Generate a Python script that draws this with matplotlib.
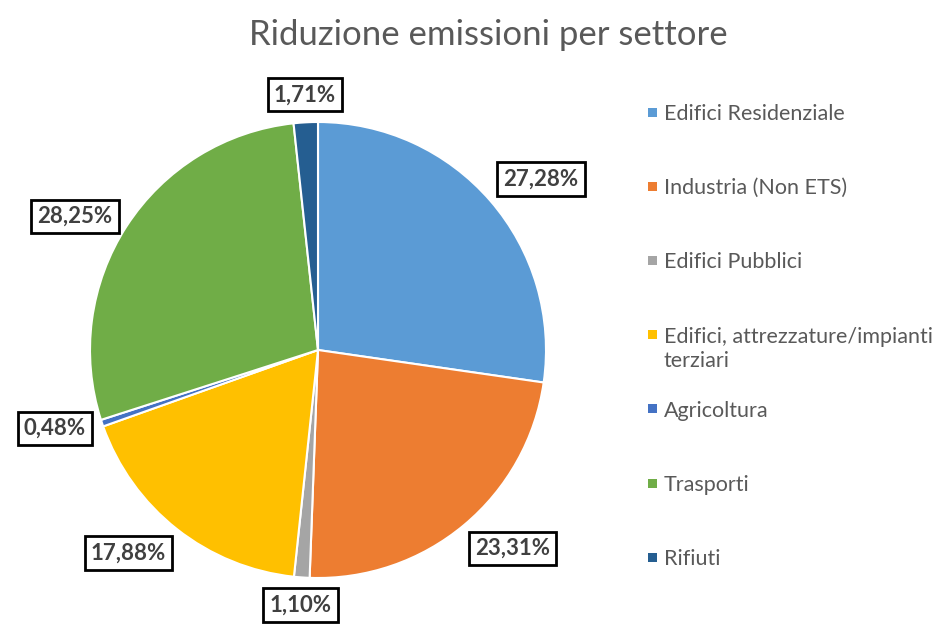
import numpy as np
import matplotlib
matplotlib.use("Agg")
import matplotlib.pyplot as plt
from matplotlib.patches import Rectangle

plt.rcParams['font.family'] = ['Lato', 'DejaVu Sans']

settori = ['Edifici Residenziale', 'Industria (Non ETS)', 'Edifici Pubblici',
           'Edifici, attrezzature/impianti\nterziari', 'Agricoltura',
           'Trasporti', 'Rifiuti']
quote = [27.28, 23.31, 1.10, 17.88, 0.48, 28.25, 1.71]
colori = ['#5B9BD5', '#ED7D31', '#A5A5A5', '#FFC000', '#4472C4', '#70AD47', '#255E91']

W, H = 945, 624
fig = plt.figure(figsize=(W / 100, H / 100), dpi=100)

# square axes so that the pie sits at (318, 350) px with radius 228 px
L = 1.35
R = 228
side = 2 * R * L
cx, cy = 318, H - 350
ax = fig.add_axes([(cx - side / 2) / W, (cy - side / 2) / H, side / W, side / H])

wedges, _ = ax.pie(quote, colors=colori, startangle=90, counterclock=False,
                   radius=1, wedgeprops=dict(edgecolor='white', linewidth=1.5))
ax.set_xlim(-L, L)
ax.set_ylim(-L, L)
ax.set_aspect('equal')
ax.axis('off')

# percentage boxes just outside each wedge, aligned away from the pie
r_lab = 1.075
for w, q in zip(wedges, quote):
    ang = np.deg2rad((w.theta1 + w.theta2) / 2)
    c, s = np.cos(ang), np.sin(ang)
    ha = 'left' if c > 0.3 else ('right' if c < -0.3 else 'center')
    va = 'bottom' if s > 0.6 else ('top' if s < -0.6 else 'center')
    ax.text(r_lab * c, r_lab * s, f'{q:.2f}%'.replace('.', ','),
            ha=ha, va=va, fontsize=16, fontweight='bold',
            color='#404040', clip_on=False,
            bbox=dict(boxstyle='square,pad=0.28', facecolor='white',
                      edgecolor='black', linewidth=2))

fig.text(488 / W, 1 - 35 / H, 'Riduzione emissioni per settore',
         ha='center', va='center', fontsize=25, color='#595959')

# legend drawn as squares and text on the right
for i, (nome, c) in enumerate(zip(settori, colori)):
    y = 112 + i * 74.2
    fig.patches.append(Rectangle(((652 - 4.5) / W, 1 - (y + 4.5) / H), 9 / W, 9 / H,
                                 transform=fig.transFigure, facecolor=c,
                                 edgecolor='none'))
    fig.text(664 / W, 1 - (y - 8) / H, nome, ha='left', va='top',
             fontsize=15.5, color='#595959', linespacing=1.3)

fig.savefig('out.png', dpi=100)
